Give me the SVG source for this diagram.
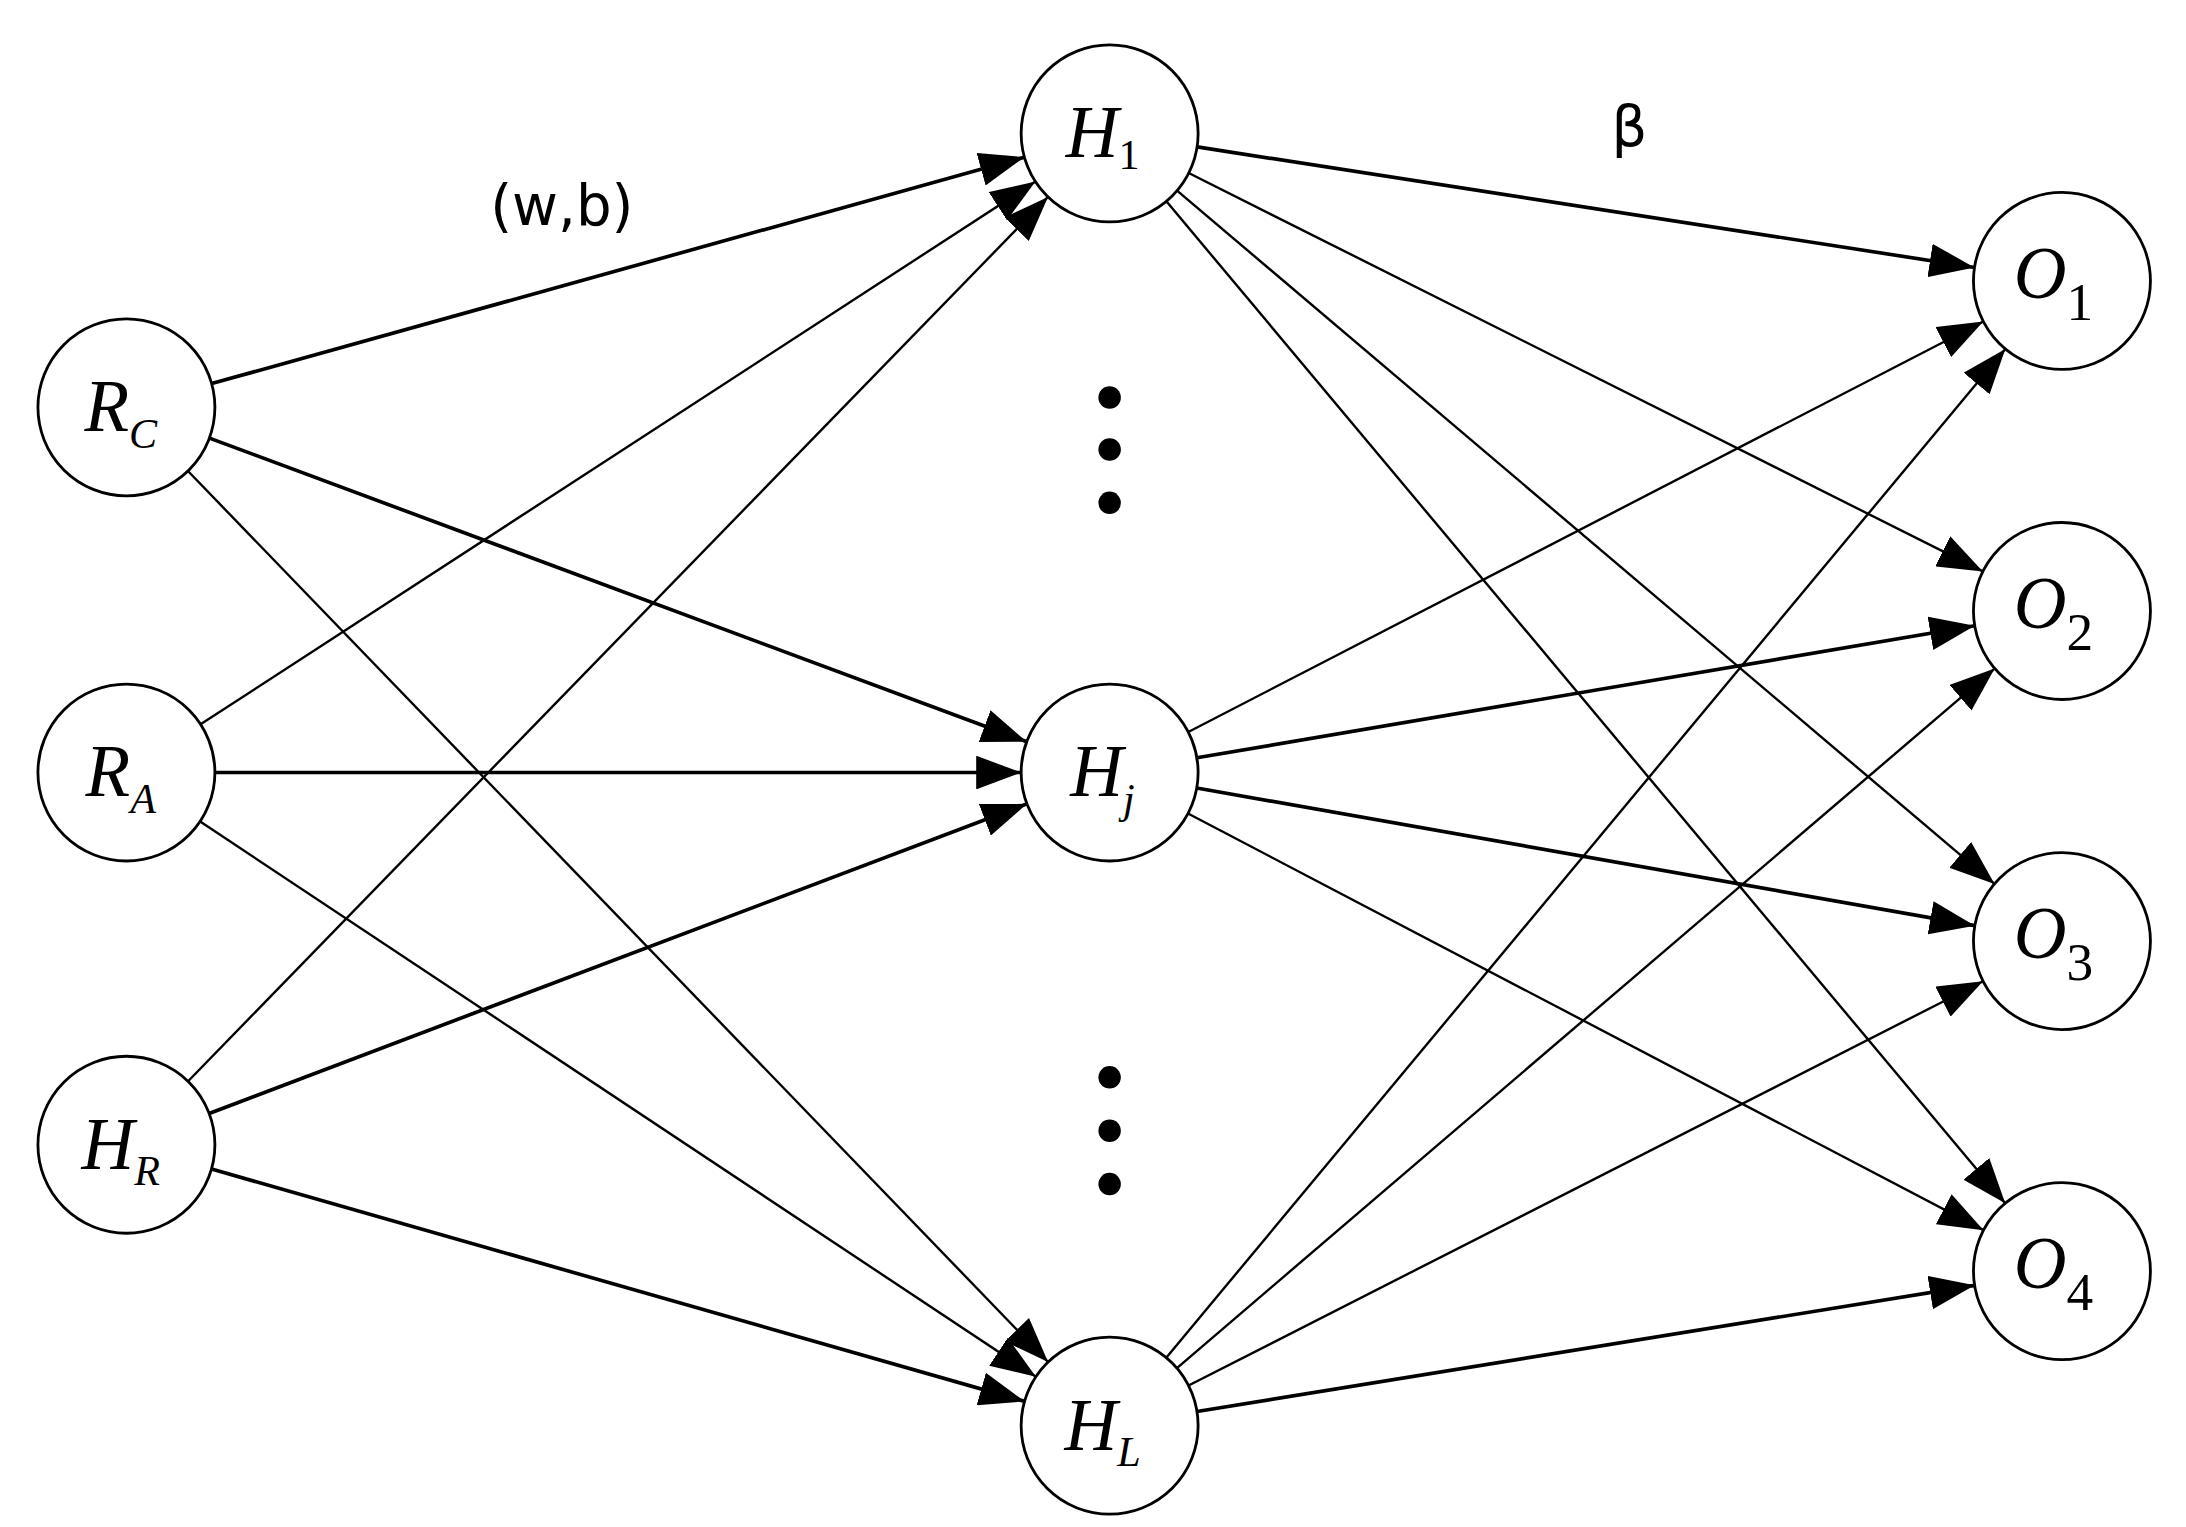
<svg xmlns="http://www.w3.org/2000/svg" width="2186" height="1527" viewBox="0 0 2186 1527">
<style>
.n{fill:#fff;stroke:#000;stroke-width:2}
.e{stroke:#000;fill:none;marker-end:url(#a)}
.t{stroke-width:2.6}.s{stroke-width:1.7}
.l{font-family:"Liberation Serif",serif;font-style:italic;font-size:52px}
.sub{font-size:30px}
.sn{font-style:normal;font-size:38px}
.lab{font-family:"DejaVu Sans","Liberation Sans",sans-serif;font-size:40px}
</style>
<defs><marker id="a" markerUnits="userSpaceOnUse" markerWidth="34" markerHeight="24" refX="32" refY="12" orient="auto"><path d="M0,0 L32,12 L0,24 Z" fill="#000"/></marker></defs>
<rect width="2186" height="1527" fill="#fff"/>
<g transform="scale(1.4046)">
<g id="edges">
<line class="e t" x1="150.7" y1="273.1" x2="729.3" y2="111.9"/>
<line class="e t" x1="149.1" y1="311.9" x2="731" y2="528.1"/>
<line class="e s" x1="133.8" y1="335.3" x2="746.2" y2="969.7"/>
<line class="e s" x1="142.8" y1="515.7" x2="737.2" y2="129.3"/>
<line class="e t" x1="153" y1="550" x2="727" y2="550"/>
<line class="e s" x1="142.5" y1="584.9" x2="737.5" y2="980.1"/>
<line class="e s" x1="133.9" y1="769.8" x2="746.1" y2="140.2"/>
<line class="e t" x1="148.9" y1="792.7" x2="731.1" y2="572.3"/>
<line class="e t" x1="150.6" y1="832.3" x2="729.4" y2="997.7"/>
<line class="e t" x1="852.3" y1="104.6" x2="1405.7" y2="190.4"/>
<line class="e s" x1="846.3" y1="123.2" x2="1411.7" y2="406.8"/>
<line class="e s" x1="838" y1="135.7" x2="1420" y2="629.3"/>
<line class="e s" x1="830.4" y1="143.3" x2="1427.6" y2="856.7"/>
<line class="e s" x1="846" y1="521.1" x2="1412" y2="228.9"/>
<line class="e t" x1="852.1" y1="539.5" x2="1405.9" y2="445.5"/>
<line class="e t" x1="852" y1="561" x2="1406" y2="659"/>
<line class="e s" x1="845.8" y1="579.2" x2="1412.2" y2="875.8"/>
<line class="e s" x1="830.3" y1="966.6" x2="1427.7" y2="248.4"/>
<line class="e s" x1="837.9" y1="974" x2="1420.1" y2="476"/>
<line class="e s" x1="846.2" y1="986.4" x2="1411.8" y2="698.6"/>
<line class="e t" x1="852.2" y1="1004.9" x2="1405.8" y2="915.1"/>
</g>
<g id="RC"><circle class="n" cx="90" cy="290" r="63"/><text class="l" x="86" y="307" text-anchor="middle">R<tspan class="sub" dy="12">C</tspan></text></g>
<g id="RA"><circle class="n" cx="90" cy="550" r="63"/><text class="l" x="86" y="567" text-anchor="middle">R<tspan class="sub" dy="12">A</tspan></text></g>
<g id="HR"><circle class="n" cx="90" cy="815" r="63"/><text class="l" x="86" y="832" text-anchor="middle">H<tspan class="sub" dy="12">R</tspan></text></g>
<g id="H1"><circle class="n" cx="790" cy="95" r="63"/><text class="l" x="785" y="112" text-anchor="middle">H<tspan class="sub" style="font-style:normal" dy="8">1</tspan></text></g>
<g id="Hj"><circle class="n" cx="790" cy="550" r="63"/><text class="l" x="785" y="567" text-anchor="middle">H<tspan class="sub" dy="12">j</tspan></text></g>
<g id="HL"><circle class="n" cx="790" cy="1015" r="63"/><text class="l" x="785" y="1032" text-anchor="middle">H<tspan class="sub" dy="12">L</tspan></text></g>
<g id="O1"><circle class="n" cx="1468" cy="200" r="63"/><text class="l" x="1462" y="212" text-anchor="middle">O<tspan class="sn" dy="16">1</tspan></text></g>
<g id="O2"><circle class="n" cx="1468" cy="435" r="63"/><text class="l" x="1462" y="447" text-anchor="middle">O<tspan class="sn" dy="16">2</tspan></text></g>
<g id="O3"><circle class="n" cx="1468" cy="670" r="63"/><text class="l" x="1462" y="682" text-anchor="middle">O<tspan class="sn" dy="16">3</tspan></text></g>
<g id="O4"><circle class="n" cx="1468" cy="905" r="63"/><text class="l" x="1462" y="917" text-anchor="middle">O<tspan class="sn" dy="16">4</tspan></text></g>
<g id="dots">
<circle cx="790" cy="283" r="8"/><circle cx="790" cy="320" r="8"/><circle cx="790" cy="358" r="8"/>
<circle cx="790" cy="767" r="8"/><circle cx="790" cy="805" r="8"/><circle cx="790" cy="843" r="8"/>
</g>
<text class="lab" x="400" y="160" text-anchor="middle">(w,b)</text>
<text class="lab" x="1160" y="104" text-anchor="middle">β</text>
</g>
</svg>
